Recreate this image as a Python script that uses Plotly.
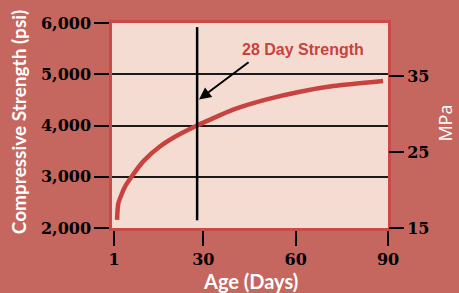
import plotly.graph_objects as go

# Data
age_days = [2.0, 2.4, 4.6, 6.7, 10.5, 15.9, 21.4, 28.0, 32.0, 39.7, 50.6, 61.4, 72.2, 88.4]
strength_psi = [2160, 2480, 2810, 3000, 3300, 3590, 3800, 4000, 4110, 4310, 4510, 4660, 4770, 4870]
x_ticks = [1, 30, 60, 90]
psi_ticks = [2000, 3000, 4000, 5000, 6000]
psi_labels = ["2,000", "3,000", "4,000", "5,000", "6,000"]
mpa_ticks = [15, 25, 35]
marker_day = 28
marker_span = [2150, 5920]
arrow_head = (28.6, 4509)
arrow_tail = (45.2, 5255)
label_pos = (62.4, 5491)
label_text = "28 Day Strength"

BG = "#c5675f"
PLOT_BG = "#f5dcd2"
RED = "#c8423f"
BORDER = "#c94a48"
tickfont = dict(family="DejaVu Serif", size=16, color="black", weight="bold")

fig = go.Figure()
fig.add_trace(go.Scatter(x=age_days, y=strength_psi, mode="lines",
                         line=dict(color=RED, width=4.5, shape="spline", smoothing=0.6),
                         hoverinfo="skip", showlegend=False))
# invisible trace to activate the MPa axis
fig.add_trace(go.Scatter(x=[x_ticks[0]], y=[mpa_ticks[0]], yaxis="y2", mode="markers",
                         marker=dict(opacity=0), showlegend=False, hoverinfo="skip"))

fig.add_shape(type="line", x0=marker_day, x1=marker_day, y0=marker_span[0], y1=marker_span[1],
              xref="x", yref="y", line=dict(color="black", width=2.5))

fig.add_annotation(x=arrow_head[0], y=arrow_head[1], ax=arrow_tail[0], ay=arrow_tail[1],
                   xref="x", yref="y", axref="x", ayref="y", text="", showarrow=True,
                   arrowhead=2, arrowsize=1.2, arrowwidth=2, arrowcolor="black")
fig.add_annotation(x=label_pos[0], y=label_pos[1], xref="x", yref="y", text=label_text,
                   showarrow=False,
                   font=dict(family="Liberation Sans", size=16, color=RED, weight="bold"))

# Axis titles as annotations for exact placement
fig.add_annotation(x=-0.34, y=0.517, xref="paper", yref="paper", text="Compressive Strength (psi)",
                   textangle=-90, showarrow=False, xanchor="center", yanchor="middle",
                   font=dict(family="Lato", size=19, color="white", weight="bold"))
fig.add_annotation(x=0.5, y=-0.258, xref="paper", yref="paper", text="Age (Days)",
                   showarrow=False, xanchor="center", yanchor="middle",
                   font=dict(family="Lato", size=20, color="white", weight="bold"))
fig.add_annotation(x=1.205, y=0.512, xref="paper", yref="paper", text="MPa",
                   textangle=-90, showarrow=False, xanchor="center", yanchor="middle",
                   font=dict(family="Open Sans", size=18, color="white"))

fig.update_layout(
    width=459, height=293,
    margin=dict(l=112, r=71, t=23, b=65, autoexpand=False),
    paper_bgcolor=BG, plot_bgcolor=PLOT_BG,
    xaxis=dict(range=[0.35, 90], tickvals=x_ticks, ticks="outside", ticklen=15,
               tickwidth=1.5, tickcolor="black", showgrid=False, zeroline=False,
               showline=True, mirror=True, linecolor=BORDER, linewidth=2.5,
               tickfont=tickfont, automargin=False),
    yaxis=dict(range=[2000, 6000], tickvals=psi_ticks, ticktext=psi_labels,
               ticks="outside", ticklen=15, tickwidth=1.5, tickcolor="black",
               showgrid=True, gridcolor="#1a1a1a", gridwidth=1.5, zeroline=False,
               showline=True, mirror=True, linecolor=BORDER, linewidth=2.5,
               tickfont=tickfont, automargin=False),
    yaxis2=dict(overlaying="y", side="right", range=[15, 41.97], tickvals=mpa_ticks,
                ticks="outside", ticklen=15, tickwidth=1.5, tickcolor="black",
                showgrid=False, zeroline=False, showline=False, tickfont=tickfont,
                automargin=False),
)

fig.write_html("out.html", config={"displayModeBar": False},
               post_script="document.body.style.margin='0';")
